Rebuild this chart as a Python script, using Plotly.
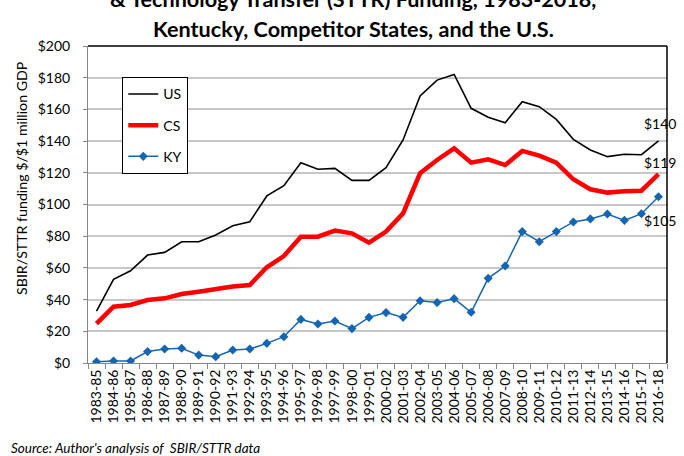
import plotly.graph_objects as go

periods = ["1983-85", "1984-86", "1985-87", "1986-88", "1987-89", "1988-90", "1989-91",
           "1990-92", "1991-93", "1992-94", "1993-95", "1994-96", "1995-97", "1996-98",
           "1997-99", "1998-00", "1999-01", "2000-02", "2001-03", "2002-04", "2003-05",
           "2004-06", "2005-07", "2006-08", "2007-09", "2008-10", "2009-11", "2010-12",
           "2011-13", "2012-14", "2013-15", "2014-16", "2015-17", "2016-18"]

us_values = [32.8, 52.8, 58.2, 68.1, 69.8, 76.5, 76.5, 80.8, 86.6, 89.1, 105.4, 111.9,
             126.4, 122.2, 122.8, 115.2, 115.2, 123.2, 140.7, 168.5, 178.5, 182.1, 160.7,
             155.0, 151.6, 164.9, 161.7, 153.7, 141.1, 134.4, 130.2, 131.7, 131.4, 140.1]

cs_values = [24.8, 35.5, 36.6, 39.7, 40.8, 43.5, 45.0, 46.7, 48.2, 49.2, 60.4, 67.5,
             79.7, 79.7, 83.5, 81.8, 75.9, 82.9, 94.4, 119.7, 128.1, 135.4, 126.4, 128.5,
             124.9, 133.8, 130.8, 126.4, 115.9, 109.6, 107.5, 108.3, 108.7, 119.2]

ky_values = [0.8, 1.3, 1.3, 7.2, 8.8, 9.3, 5.0, 4.0, 8.2, 8.8, 12.4, 16.6, 27.5, 24.6,
             26.5, 21.7, 28.8, 31.8, 28.8, 39.3, 38.1, 40.6, 32.0, 53.4, 61.2, 82.9, 76.5,
             82.9, 89.0, 90.9, 94.0, 90.0, 94.2, 104.9]

end_labels = ["$140", "$119", "$105"]
y_ticks = [0, 20, 40, 60, 80, 100, 120, 140, 160, 180, 200]
y_tick_text = ["$" + str(v) for v in y_ticks]

title_lines = ["& Technology Transfer (STTR) Funding, 1983-2018,",
               "Kentucky, Competitor States, and the U.S."]
y_title = "SBIR/STTR funding $/$1 million GDP"
source_text = "Source: Author's analysis of  SBIR/STTR data"

FONT = "Lato"

fig = go.Figure()
fig.add_trace(go.Scatter(x=periods, y=us_values, name="US", mode="lines",
                         line=dict(color="#000000", width=1.6), legendgroup="us"))
fig.add_trace(go.Scatter(x=periods, y=cs_values, name="CS", mode="lines",
                         line=dict(color="#ff0000", width=4.5), legendgroup="cs"))
fig.add_trace(go.Scatter(x=periods, y=ky_values, name="KY", mode="lines+markers",
                         line=dict(color="#1565b3", width=1.5),
                         marker=dict(symbol="diamond", size=7, color="#1565b3"),
                         legendgroup="ky"))

# end-of-series value labels
for series, lab, shift in [(us_values, end_labels[0], 17), (cs_values, end_labels[1], 12),
                           (ky_values, end_labels[2], -24)]:
    fig.add_annotation(x=periods[-1], y=series[-1], text=lab, showarrow=False,
                       xref="x", yref="y", yshift=shift, xshift=2,
                       font=dict(family=FONT, size=14, color="#000000"))

# title lines
fig.add_annotation(text="<b>" + title_lines[0] + "</b>", xref="paper", yref="paper",
                   x=0.4585, y=1, yshift=47, xanchor="center", yanchor="middle",
                   showarrow=False, font=dict(family=FONT, size=21.6, color="#000000"))
fig.add_annotation(text="<b>" + title_lines[1] + "</b>", xref="paper", yref="paper",
                   x=0.4585, y=1, yshift=17, xanchor="center", yanchor="middle",
                   showarrow=False, font=dict(family=FONT, size=21.6, color="#000000"))

# y-axis title (placed as in the reference, slightly above centre)
fig.add_annotation(text=y_title, xref="paper", yref="paper", x=-0.114, y=0.5836,
                   xanchor="center", yanchor="middle", textangle=-90, showarrow=False,
                   font=dict(family=FONT, size=14.2, color="#000000"))

# source note
fig.add_annotation(text="<i>" + source_text + "</i>", xref="paper", yref="paper",
                   x=-0.137, y=0, yshift=-85, xanchor="left", yanchor="middle",
                   showarrow=False, font=dict(family=FONT, size=13.5, color="#000000"))

# top & right frame lines
fig.add_shape(type="line", xref="paper", yref="paper", x0=0, x1=1, y0=1, y1=1,
              line=dict(color="#000000", width=1.5))
fig.add_shape(type="line", xref="paper", yref="paper", x0=1, x1=1, y0=0, y1=1,
              line=dict(color="#000000", width=1.5))

fig.update_layout(
    width=684, height=456,
    margin=dict(l=88, r=17, t=46, b=93),
    paper_bgcolor="#ffffff", plot_bgcolor="#ffffff",
    font=dict(family=FONT, size=14, color="#000000"),
    showlegend=True,
    legend=dict(x=0.0587, y=0.902, xanchor="left", yanchor="top",
                bordercolor="#000000", borderwidth=1.3, bgcolor="#ffffff",
                font=dict(family=FONT, size=14, color="#000000"),
                tracegroupgap=10, entrywidth=78),
)
fig.update_xaxes(type="category", showline=True, linecolor="#868686", linewidth=1,
                 range=[-0.5, len(periods) - 0.5],
                 tickmode="array", tickvals=periods, ticktext=periods,
                 ticks="outside", ticklen=5, tickcolor="#868686", tickson="boundaries",
                 tickangle=-90, showgrid=False, tickfont=dict(family=FONT, size=14),
                 automargin=False)
fig.update_yaxes(range=[0, 200], tickvals=y_ticks, ticktext=y_tick_text,
                 showline=True, linecolor="#868686", linewidth=1,
                 showgrid=True, gridcolor="#c8c8c8", gridwidth=1.5,
                 ticks="outside", ticklen=4, tickcolor="#868686", ticklabelstandoff=10,
                 zeroline=False, automargin=False,
                 tickfont=dict(family=FONT, size=14))

fig.write_html("out.html", config={"displayModeBar": False},
               post_script="document.body.style.margin='0';document.body.style.overflow='hidden';")
